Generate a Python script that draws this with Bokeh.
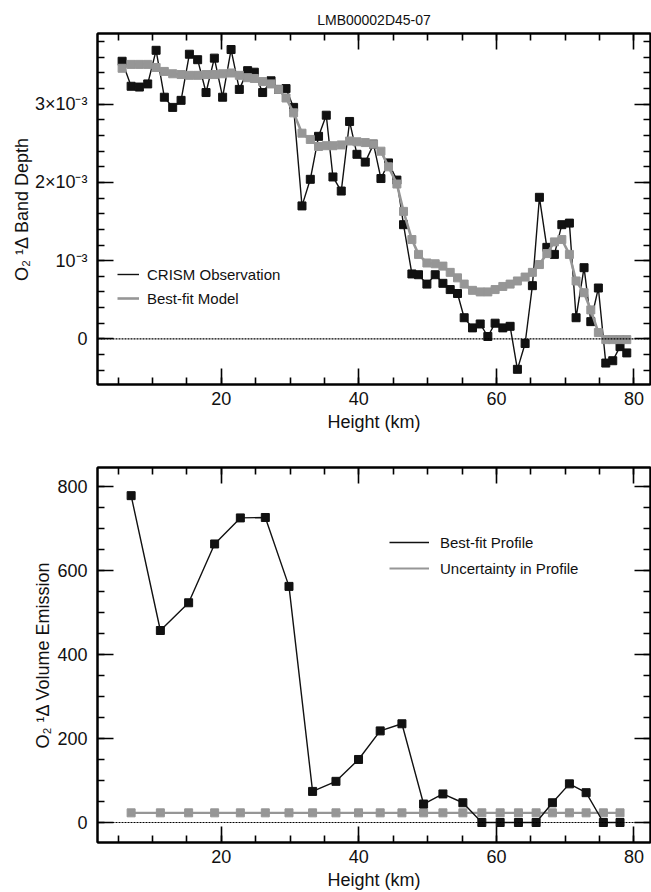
from bokeh.plotting import figure
from bokeh.models import Range1d, LinearAxis, SingleIntervalTicker, Span, Legend, LegendItem
from bokeh.layouts import column
from bokeh.embed import file_html
from bokeh.resources import INLINE

FONT = "Liberation Sans"
GRAY = "#969696"
INK = "#111111"

# ---------------- data: top panel (band depth, in units of 1e-3) ----------------
observation_id = "LMB00002D45-07"
top_height_km = [5.58, 6.89, 8.09, 9.30, 10.52, 11.72, 12.93, 14.15, 15.36, 16.56,
                 17.78, 18.99, 20.19, 21.42, 22.62, 23.83, 24.80, 26.01, 27.23, 28.33,
                 29.41, 30.51, 31.73, 32.94, 34.14, 35.26, 36.23, 37.44, 38.65, 39.72,
                 40.93, 42.13, 43.21, 44.31, 45.53, 46.49, 47.71, 48.67, 49.89, 51.10,
                 52.22, 53.28, 54.34, 55.31, 56.52, 57.64, 58.75, 59.81, 60.93, 61.99,
                 63.05, 64.17, 65.23, 66.25, 67.33, 68.43, 69.51, 70.61, 71.58, 72.74,
                 73.72, 74.82, 75.90, 76.91, 77.97, 78.95]
crism_obs_e3 = [3.55, 3.23, 3.22, 3.26, 3.69, 3.09, 2.96, 3.05, 3.64, 3.57,
                3.15, 3.59, 3.09, 3.70, 3.19, 3.43, 3.41, 3.15, 3.30, 3.19,
                3.20, 2.96, 1.70, 2.04, 2.59, 2.86, 2.07, 1.89, 2.78, 2.36,
                2.26, 2.49, 2.05, 2.25, 2.03, 1.46, 0.83, 0.82, 0.70, 0.82,
                0.71, 0.63, 0.58, 0.27, 0.14, 0.19, 0.03, 0.20, 0.14, 0.16,
                -0.39, -0.06, 0.68, 1.81, 1.17, 1.08, 1.46, 1.48, 0.27, 0.91,
                0.22, 0.65, -0.31, -0.28, -0.10, -0.18]
bestfit_model_e3 = [3.46, 3.51, 3.51, 3.51, 3.47, 3.42, 3.39, 3.38, 3.37, 3.37,
                    3.38, 3.38, 3.39, 3.40, 3.37, 3.34, 3.33, 3.29, 3.26, 3.19,
                    3.08, 2.89, 2.63, 2.55, 2.46, 2.47, 2.47, 2.48, 2.53, 2.52,
                    2.51, 2.49, 2.40, 2.20, 1.98, 1.63, 1.27, 1.08, 0.97, 0.96,
                    0.93, 0.85, 0.78, 0.70, 0.62, 0.60, 0.60, 0.63, 0.67, 0.70,
                    0.74, 0.79, 0.85, 0.95, 1.09, 1.24, 1.27, 1.08, 0.74, 0.59,
                    0.37, 0.08, -0.01, -0.01, -0.01, -0.01]
top_ytick_labels = {0: "0", 1: "10\u207b\u00b3", 2: "2\u00d710\u207b\u00b3", 3: "3\u00d710\u207b\u00b3"}

# ---------------- data: bottom panel (volume emission) ----------------
bot_height_km = [6.89, 11.14, 15.25, 19.03, 22.77, 26.40, 29.84, 33.27, 36.67, 39.95,
                 43.10, 46.26, 49.41, 52.22, 55.12, 57.88, 60.54, 63.20, 65.77, 68.14,
                 70.61, 73.04, 75.55, 77.97]
bestfit_profile = [778, 457, 523, 663, 725, 726, 562, 74, 98, 150,
                   218, 235, 44, 68, 47, 0, 0, 0, 0, 47,
                   92, 71, 0, 0]
uncertainty = [23, 23, 23, 23, 23, 23, 23, 23, 23, 23,
               23, 23, 23, 23, 23, 23, 23, 23, 23, 23,
               23, 23, 23, 23]


def style_axis(ax, labels=True):
    ax.axis_line_width = 2
    ax.axis_line_color = "black"
    ax.major_tick_in = 16
    ax.major_tick_out = 0
    ax.minor_tick_in = 7
    ax.minor_tick_out = 0
    ax.major_tick_line_width = 1.6
    ax.minor_tick_line_width = 1.6
    ax.major_tick_line_color = "black"
    ax.minor_tick_line_color = "black"
    ax.major_label_text_font = FONT
    ax.major_label_text_color = INK
    ax.axis_label_text_font = FONT
    ax.axis_label_text_font_size = "18px"
    ax.axis_label_text_font_style = "normal"
    ax.axis_label_text_color = INK
    if labels:
        ax.major_label_text_font_size = "18px"
        ax.major_label_standoff = 10
    else:
        ax.major_label_text_font_size = "1px"
        ax.major_label_standoff = 0


def make_fig(frame_h, yr, top_border, ylabel, y_interval, y_minor, y_hidden_ticks):
    p = figure(frame_width=553, frame_height=frame_h,
               x_range=Range1d(2.0, 82.4), y_range=Range1d(*yr),
               output_backend="svg", toolbar_location=None,
               min_border_left=97, min_border_right=1,
               min_border_top=top_border, min_border_bottom=50,
               x_axis_label="Height (km)", y_axis_label=ylabel)
    p.xgrid.visible = False
    p.ygrid.visible = False
    p.outline_line_color = "black"
    p.outline_line_width = 2
    p.background_fill_color = "white"
    p.border_fill_color = "white"
    p.xaxis[0].ticker = SingleIntervalTicker(interval=20, num_minor_ticks=4)
    p.yaxis[0].ticker = SingleIntervalTicker(interval=y_interval, num_minor_ticks=y_minor)
    style_axis(p.xaxis[0])
    style_axis(p.yaxis[0])
    p.xaxis[0].major_label_standoff = 7
    p.xaxis[0].axis_label_standoff = 4
    top_ax = LinearAxis(ticker=SingleIntervalTicker(interval=20, num_minor_ticks=4))
    right_ax = LinearAxis(ticker=SingleIntervalTicker(interval=y_interval, num_minor_ticks=y_minor))
    style_axis(top_ax, labels=False)
    style_axis(right_ax, labels=False)
    top_ax.major_label_overrides = {t: "" for t in [0, 20, 40, 60, 80]}
    right_ax.major_label_overrides = {t: "" for t in y_hidden_ticks}
    p.add_layout(top_ax, "above")
    p.add_layout(right_ax, "right")
    p.add_layout(Span(location=0, dimension="width", line_color="black",
                      line_dash="2 1", line_width=1.2))
    return p


# ---------------- top figure ----------------
p1 = make_fig(351, (-0.584, 3.905), 33, "O\u2082 \u00b9\u0394 Band Depth", 1, 5, [0, 1, 2, 3])
p1.yaxis[0].major_label_overrides = top_ytick_labels
p1.yaxis[0].axis_label_standoff = 0
p1.title.text = observation_id
p1.title.align = "center"
p1.title.text_font = FONT
p1.title.text_font_size = "14px"
p1.title.text_font_style = "normal"
p1.title.text_color = INK
p1.title.standoff = 12

obs_line = p1.line(top_height_km, crism_obs_e3, line_color=INK, line_width=1.4)
p1.scatter(top_height_km, crism_obs_e3, marker="square", size=8, fill_color=INK, line_color=INK)
mod_line = p1.line(top_height_km, bestfit_model_e3, line_color=GRAY, line_width=2.6)
p1.scatter(top_height_km, bestfit_model_e3, marker="square", size=8, fill_color=GRAY, line_color=GRAY)

leg1 = Legend(items=[LegendItem(label="CRISM Observation", renderers=[obs_line]),
                     LegendItem(label="Best-fit Model", renderers=[mod_line])],
              location=(20, 76), margin=0, padding=0, spacing=4,
              label_height=20, glyph_height=20, glyph_width=22, label_standoff=8,
              label_text_font=FONT, label_text_font_size="15px", label_text_color=INK,
              border_line_alpha=0, background_fill_alpha=0)
p1.add_layout(leg1)

# ---------------- bottom figure ----------------
p2 = make_fig(375, (-47.6, 845), 33, "O\u2082 \u00b9\u0394 Volume Emission", 200, 4, [0, 200, 400, 600, 800])
p2.yaxis[0].axis_label_standoff = 1

unc_line = p2.line(bot_height_km, uncertainty, line_color=GRAY, line_width=2.2)
p2.scatter(bot_height_km, uncertainty, marker="square", size=8, fill_color=GRAY, line_color=GRAY)
prof_line = p2.line(bot_height_km, bestfit_profile, line_color=INK, line_width=1.4)
p2.scatter(bot_height_km, bestfit_profile, marker="square", size=8, fill_color=INK, line_color=INK)

leg2 = Legend(items=[LegendItem(label="Best-fit Profile", renderers=[prof_line]),
                     LegendItem(label="Uncertainty in Profile", renderers=[unc_line])],
              location=(292, 264), margin=0, padding=0, spacing=6,
              label_height=20, glyph_height=20, glyph_width=40, label_standoff=11,
              label_text_font=FONT, label_text_font_size="15px", label_text_color=INK,
              border_line_alpha=0, background_fill_alpha=0)
p2.add_layout(leg2)

layout = column(p1, p2, spacing=0)
open("out.html", "w").write(file_html(layout, INLINE))
